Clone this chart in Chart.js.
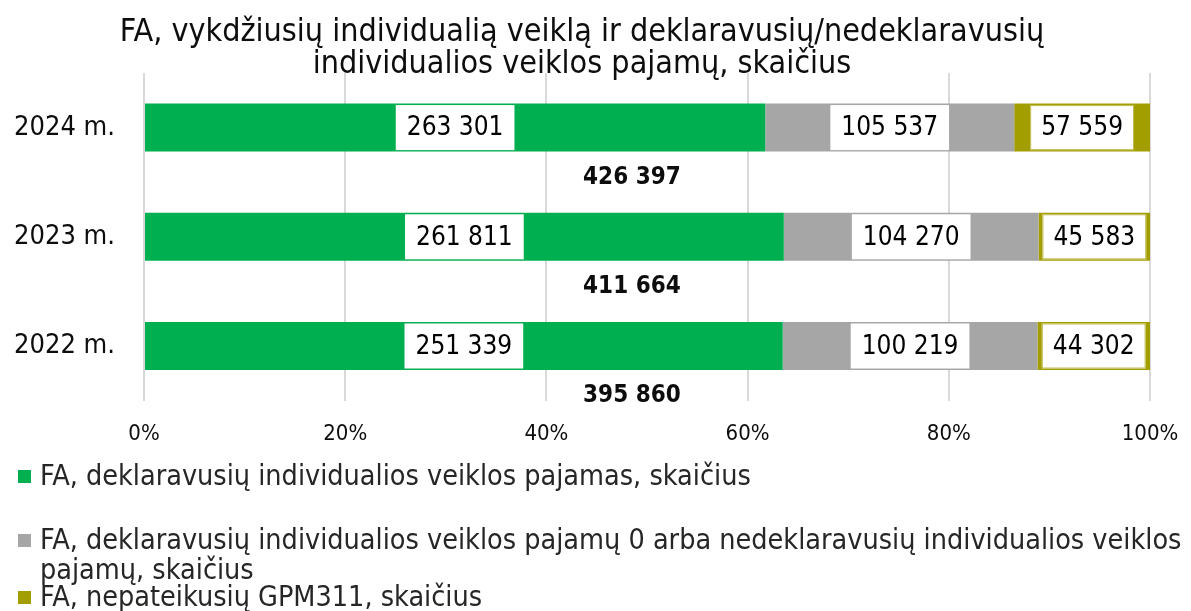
<!DOCTYPE html>
<html lang="lt">
<head>
  <meta charset="UTF-8">
  <title>FA individuali veikla</title>
  <script src="https://cdn.jsdelivr.net/npm/chart.js"></script>
  <style>
    body {
      margin: 0;
      background: #fff;
      font-family: "DejaVu Sans Condensed", "DejaVu Sans", sans-serif;
    }
    #wrap {
      position: relative;
      width: 1191px;
      height: 611px;
      overflow: hidden;
    }
    #chart-box {
      position: absolute;
      left: 0;
      top: 0;
      width: 1191px;
      height: 467px;
    }
    #legend {
      position: absolute;
      left: 18px;
      top: 461px;
      font-size: 28.5px;
      color: #262626;
      white-space: nowrap;
    }
    .item {
      position: relative;
      padding-left: 22px;
      line-height: 30px;
    }
    .item span.sw {
      position: absolute;
      left: 0;
      top: 9px;
      width: 13px;
      height: 13px;
    }
  </style>
</head>
<body>
  <div id="wrap">
    <div id="chart-box"><canvas id="fa"></canvas></div>
    <div id="legend"></div>
  </div>

  <script>
    // data
    const years = ["2024 m.", "2023 m.", "2022 m."];
    const declared = [263301, 261811, 251339];
    const zeroOrNot = [105537, 104270, 100219];
    const noGpm = [57559, 45583, 44302];

    const seriesNames = [
      "FA, deklaravusių individualios veiklos pajamas, skaičius",
      "FA, deklaravusių individualios veiklos pajamų 0 arba nedeklaravusių individualios veiklos pajamų, skaičius",
      "FA, nepateikusių GPM311, skaičius"
    ];
    const colors = ["#00B050", "#A6A6A6", "#A39E00"];

    const totals = years.map((_, i) => declared[i] + zeroOrNot[i] + noGpm[i]);
    const share = arr => arr.map((v, i) => v / totals[i] * 100);

    function fmt(n) {
      return String(n).replace(/\B(?=(\d{3})+(?!\d))/g, " ");
    }

    const raw = [declared, zeroOrNot, noGpm];
    const FONT = "'DejaVu Sans Condensed', 'DejaVu Sans', sans-serif";

    // value boxes inside the bars + bold totals under each bar
    const labelPlugin = {
      id: "labels",
      afterDatasetsDraw(chart) {
        const ctx = chart.ctx;
        ctx.save();
        ctx.font = "26px " + FONT;
        ctx.textAlign = "center";
        ctx.textBaseline = "middle";
        chart.data.datasets.forEach((ds, di) => {
          chart.getDatasetMeta(di).data.forEach((bar, i) => {
            const txt = fmt(raw[di][i]);
            const cx = (bar.x + bar.base) / 2;
            const w = ctx.measureText(txt).width + 22;
            const h = bar.height - 3;
            ctx.fillStyle = "#fff";
            ctx.fillRect(cx - w / 2, bar.y - h / 2, w, h);
            if (di === 2) {
              ctx.strokeStyle = "#BDB84A";
              ctx.lineWidth = 1;
              ctx.strokeRect(cx - w / 2 + 0.5, bar.y - h / 2 + 0.5, w - 1, h - 1);
            }
            ctx.fillStyle = "#000";
            ctx.fillText(txt, cx, bar.y + 1);
          });
        });
        const x = chart.scales.x;
        ctx.font = "bold 24px " + FONT;
        ctx.fillStyle = "#0d0d0d";
        chart.getDatasetMeta(0).data.forEach((bar, i) => {
          ctx.fillText(fmt(totals[i]), x.getPixelForValue(48.5), bar.y + bar.height / 2 + 26);
        });
        ctx.restore();
      }
    };

    new Chart(document.getElementById("fa"), {
      type: "bar",
      data: {
        labels: years,
        datasets: raw.map((arr, i) => ({
          label: seriesNames[i],
          data: share(arr),
          backgroundColor: colors[i],
          borderWidth: 0,
          barPercentage: 0.44,
          categoryPercentage: 1
        }))
      },
      options: {
        indexAxis: "y",
        responsive: true,
        maintainAspectRatio: false,
        animation: false,
        layout: { padding: { left: 14, right: 41, top: 0, bottom: 0 } },
        plugins: {
          legend: { display: false },
          tooltip: { enabled: false },
          title: {
            display: true,
            text: ["FA, vykdžiusių individualią veiklą ir deklaravusių/nedeklaravusių",
                   "individualios veiklos pajamų, skaičius"],
            color: "#0d0d0d",
            font: { family: FONT, size: 32, weight: "normal", lineHeight: 1.0 },
            padding: { top: 17, bottom: -8 }
          }
        },
        scales: {
          x: {
            stacked: true,
            min: 0,
            max: 100,
            ticks: {
              stepSize: 20,
              callback: v => v + "%",
              color: "#0d0d0d",
              font: { family: FONT, size: 22 },
              padding: 20
            },
            grid: { color: "#D9D9D9", lineWidth: 2, drawTicks: false },
            border: { display: false },
            afterFit(scale) { scale.paddingRight = 0; scale.paddingLeft = 0; }
          },
          y: {
            stacked: true,
            ticks: {
              color: "#0d0d0d",
              font: { family: FONT, size: 27 },
              padding: 29
            },
            grid: { display: false, drawTicks: false },
            border: { display: false },
            afterFit(scale) { scale.width = 130; }
          }
        }
      },
      plugins: [labelPlugin]
    });

    // legend below the plot, one item per row
    const legend = document.getElementById("legend");
    const gaps = [0, 34, -3];
    seriesNames.forEach((name, i) => {
      const d = document.createElement("div");
      d.className = "item";
      d.style.marginTop = gaps[i] + "px";
      d.innerHTML = '<span class="sw" style="background:' + colors[i] + '"></span>' +
        (i === 1 ? name.replace("veiklos pajamų, skaičius", "veiklos<br>pajamų, skaičius") : name);
      legend.appendChild(d);
    });
  </script>
</body>
</html>
